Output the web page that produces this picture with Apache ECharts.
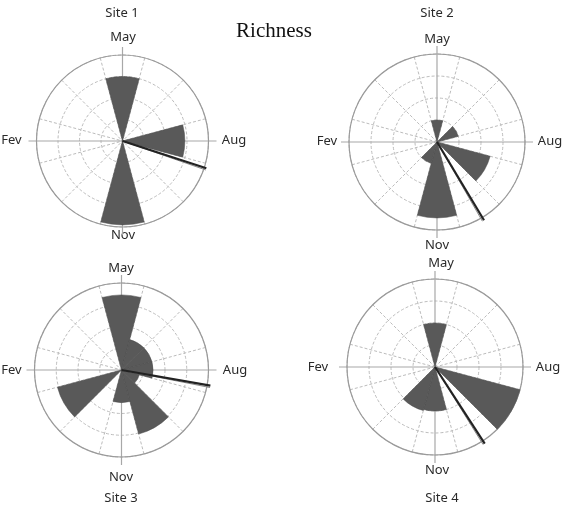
<!DOCTYPE html>
<html>
<head>
<meta charset="utf-8">
<script src="https://cdn.jsdelivr.net/npm/echarts@6/dist/echarts.min.js"></script>
<style>
  html, body { margin: 0; padding: 0; background: #fff; }
  #chart { width: 565px; height: 508px; }
</style>
</head>
<body>
<div id="chart"></div>
<script>
// months clockwise, starting from May at the top
const months = ['May', 'Jun', 'Jul', 'Aug', 'Sep', 'Oct', 'Nov', 'Dec', 'Jan', 'Fev', 'Mar', 'Apr'];

// richness per month (ring units, 4 rings)
const site1 = [3.0, 0, 0, 2.9, 0, 0, 3.9, 0, 0, 0, 0, 0];
const site2 = [1.0, 0, 1.0, 0, 2.5, 0, 3.45, 1.0, 0, 0, 0, 0];
const site3 = [3.45, 1.45, 1.45, 1.45, 0.85, 3.05, 1.5, 0, 3.05, 0, 0, 0];
const site4 = [2.0, 0, 0, 0, 4.0, 0, 2.0, 2.05, 0, 0, 0, 0];

// mean vector: angle in degrees clockwise from May, length in ring units
const meanAngle = [108, 149, 100, 147];
const meanLength = [4.1, 4.15, 4.15, 4.15];

const siteNames = ['Site 1', 'Site 2', 'Site 3', 'Site 4'];
const siteData = [site1, site2, site3, site4];

// layout of each rose
const centers = [[122.5, 141], [437, 142], [121.5, 370], [435, 367]];
const radii = [86, 88, 87, 88];
const EXT = 8;

const chart = echarts.init(document.getElementById('chart'));

const polar = [], angleAxis = [], radiusAxis = [], series = [];
const gridDash = { color: '#bcbcbc', type: [3, 2], width: 1 };

siteData.forEach((vals, i) => {
    const R = radii[i];
    polar.push({ center: centers[i], radius: R });
    polar.push({ center: centers[i], radius: R + EXT });

    // bars polar
    angleAxis.push({
        polarIndex: 2 * i, type: 'category', data: months,
        startAngle: 105, clockwise: true, boundaryGap: true,
        axisLine: { show: true, lineStyle: { color: '#9a9a9a', width: 1.2 } },
        axisTick: { show: false }, axisLabel: { show: false },
        splitLine: { show: true, lineStyle: gridDash }
    });
    radiusAxis.push({
        polarIndex: 2 * i, type: 'value', min: 0, max: 4, interval: 1,
        axisLine: { show: false }, axisTick: { show: false }, axisLabel: { show: false },
        splitLine: { show: true, lineStyle: gridDash }
    });

    // overlay polar: solid cardinal axes + mean vector
    angleAxis.push({
        polarIndex: 2 * i + 1, type: 'value', min: 0, max: 360, interval: 90,
        startAngle: 90, clockwise: true,
        axisLine: { show: false }, axisTick: { show: false }, axisLabel: { show: false },
        splitLine: { show: true, lineStyle: { color: '#a8a8a8', width: 1.2 } }
    });
    radiusAxis.push({
        polarIndex: 2 * i + 1, type: 'value', min: 0, max: 4 * (R + EXT) / R,
        axisLine: { show: false }, axisTick: { show: false }, axisLabel: { show: false },
        splitLine: { show: false }
    });

    series.push({
        name: siteNames[i], type: 'bar', coordinateSystem: 'polar', polarIndex: 2 * i,
        data: vals, barCategoryGap: '0%',
        itemStyle: { color: '#595959', borderColor: '#4a4a4a', borderWidth: 0.5 }
    });

    // mean vector drawn as a dark line with a fainter companion line
    series.push({
        type: 'line', coordinateSystem: 'polar', polarIndex: 2 * i + 1,
        data: [[0, meanAngle[i] + 1.2], [meanLength[i], meanAngle[i] + 1.2]],
        symbol: 'none', z: 5,
        lineStyle: { color: '#8a8a8a', width: 1 }
    });
    series.push({
        type: 'line', coordinateSystem: 'polar', polarIndex: 2 * i + 1,
        data: [[0, meanAngle[i]], [meanLength[i], meanAngle[i]]],
        symbol: 'none', z: 6,
        lineStyle: { color: '#222222', width: 2.2 }
    });
});

// text labels
const labelFont = '13px "Noto Sans", sans-serif';
const labels = [
    ['Site 1', 122, 13], ['May', 123, 37], ['Fev', 11.5, 140], ['Aug', 234, 140], ['Nov', 123, 235],
    ['Site 2', 437, 13], ['May', 437, 39], ['Fev', 327, 141], ['Aug', 550, 141], ['Nov', 437, 245],
    ['May', 121, 268], ['Fev', 11.5, 370], ['Aug', 235, 370], ['Nov', 121, 477], ['Site 3', 121, 498],
    ['May', 441, 263], ['Fev', 318, 367], ['Aug', 548, 367], ['Nov', 437, 470], ['Site 4', 442, 498]
];
const graphic = labels.map(([t, x, y]) => ({
    type: 'text', x: x, y: y,
    style: { text: t, font: labelFont, fill: '#2a2a2a', align: 'center', verticalAlign: 'middle' }
}));
graphic.push({
    type: 'text', x: 274, y: 31,
    style: { text: 'Richness', font: '21px "Liberation Serif", "Times New Roman", serif', fill: '#111', align: 'center', verticalAlign: 'middle' }
});

chart.setOption({
    animation: false,
    backgroundColor: '#fff',
    polar: polar,
    angleAxis: angleAxis,
    radiusAxis: radiusAxis,
    series: series,
    graphic: graphic
});
</script>
</body>
</html>
